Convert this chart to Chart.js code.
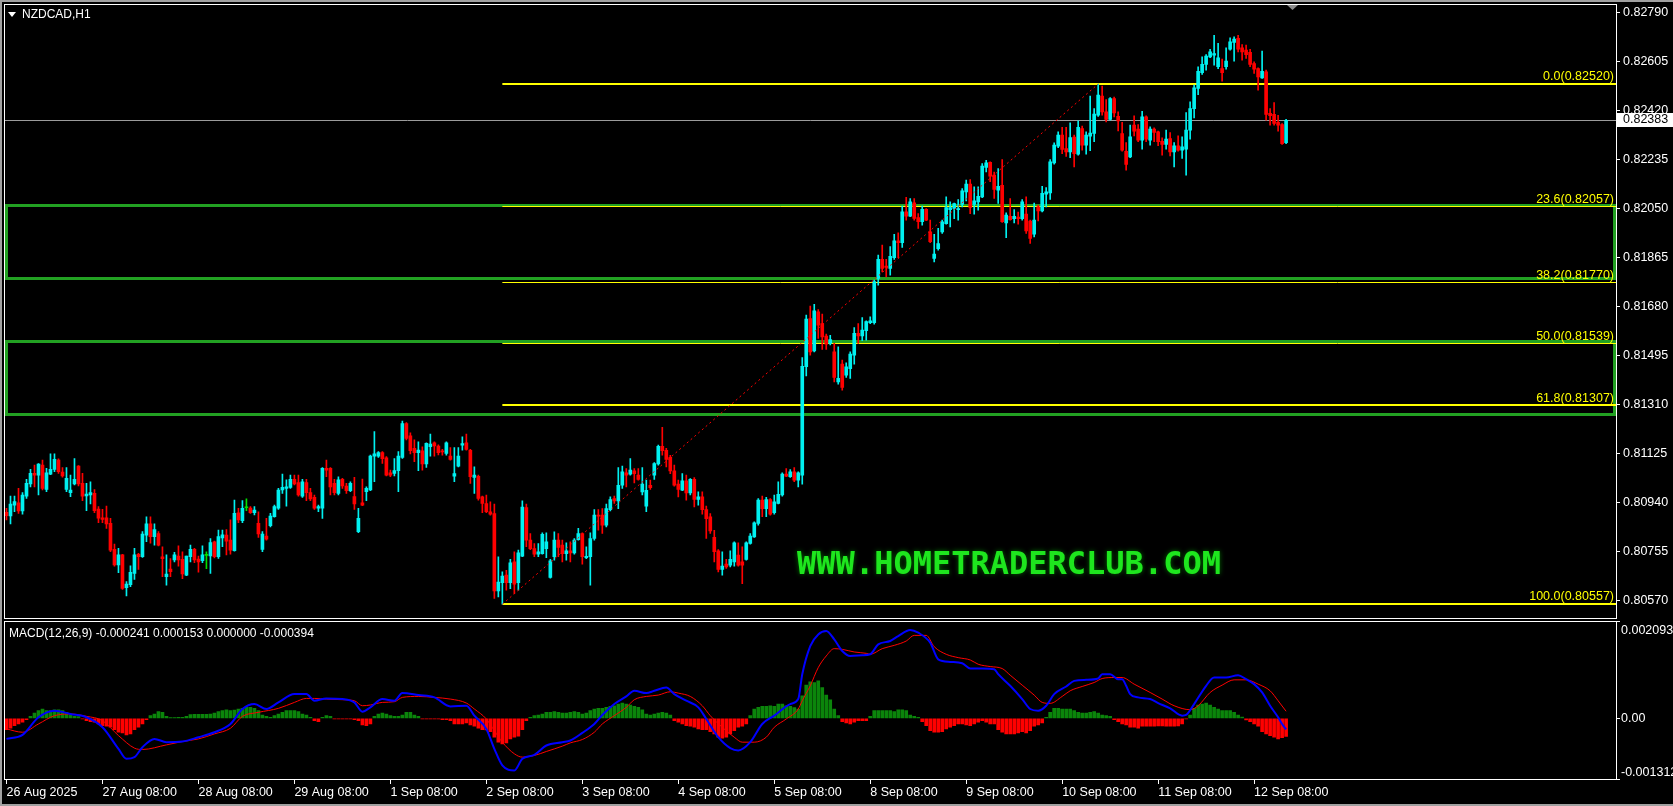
<!DOCTYPE html>
<html>
<head>
<meta charset="utf-8">
<title>NZDCAD,H1</title>
<script src="https://cdn.jsdelivr.net/npm/chart.js@4.4.1/dist/chart.umd.min.js"></script>
<style>
html, body { margin: 0; padding: 0; background: #000; overflow: hidden; }
#wrap { position: relative; width: 1673px; height: 806px; background: #000; }
#main { position: absolute; left: 0; top: 0; }
#macd { position: absolute; left: 0; top: 620px; }
#edge { position: absolute; left: 0; top: 0; width: 1673px; height: 806px; box-sizing: border-box;
        border-top: 2px solid #a0a0a0; border-left: 2px solid #a0a0a0; border-bottom: 2px solid #a0a0a0; pointer-events: none; }
</style>
</head>
<body>
<div id="wrap">
  <canvas id="main" width="1673" height="620"></canvas>
  <canvas id="macd" width="1673" height="186"></canvas>
  <div id="edge"></div>
</div>
<script>
// NZDCAD H1, 26 Aug - 12 Sep 2025, one entry per hourly bar
const opens = [
0.80904,0.80890,0.80931,0.80940,0.80909,0.80965,0.81011,0.81051,0.81044,0.81082,
0.80990,0.81048,0.81066,0.81101,0.81056,0.80990,0.80978,0.81011,0.81078,0.81013,
0.80966,0.80969,0.80975,0.80916,0.80883,0.80883,0.80862,0.80764,0.80705,0.80743,
0.80619,0.80631,0.80673,0.80745,0.80736,0.80818,0.80860,0.80812,0.80824,0.80736,
0.80661,0.80690,0.80724,0.80739,0.80726,0.80667,0.80736,0.80764,0.80727,0.80721,
0.80741,0.80739,0.80792,0.80736,0.80807,0.80818,0.80799,0.80759,0.80902,0.80872,
0.80921,0.80920,0.80902,0.80862,0.80764,0.80814,0.80853,0.80887,0.80919,0.80988,
0.80994,0.80998,0.81028,0.81016,0.80965,0.81016,0.80978,0.80960,0.80919,0.80919,
0.81070,0.81070,0.81013,0.80975,0.81028,0.81003,0.80985,0.80963,0.80831,0.80940,
0.80982,0.80988,0.81116,0.81116,0.81129,0.81109,0.81053,0.81051,0.81061,0.81111,
0.81239,0.81192,0.81145,0.81129,0.81136,0.81086,0.81151,0.81166,0.81154,0.81136,
0.81126,0.81116,0.81040,0.81078,0.81157,0.81166,0.81138,0.81035,0.81040,0.80962,
0.80937,0.80906,0.80899,0.80607,0.80638,0.80667,0.80638,0.80717,0.80638,0.80738,
0.80922,0.80799,0.80767,0.80746,0.80748,0.80767,0.80658,0.80736,0.80799,0.80780,
0.80748,0.80758,0.80751,0.80801,0.80824,0.80733,0.80736,0.80805,0.80893,0.80893,
0.80855,0.80914,0.80956,0.80947,0.81006,0.81053,0.81048,0.81060,0.81044,0.80981,
0.80927,0.81006,0.81044,0.81086,0.81153,0.81138,0.81111,0.81060,0.81010,0.80987,
0.81023,0.80977,0.81028,0.80952,0.80962,0.80914,0.80887,0.80809,0.80758,0.80688,
0.80708,0.80704,0.80717,0.80742,0.80717,0.80726,0.80786,0.80811,0.80862,0.80950,
0.80918,0.80952,0.80902,0.80937,0.80969,0.81048,0.81038,0.81057,0.81025,0.81044,
0.81453,0.81635,0.81513,0.81660,0.81616,0.81569,0.81541,0.81509,0.81396,0.81463,
0.81421,0.81446,0.81497,0.81579,0.81569,0.81589,0.81619,0.81619,0.81786,0.81858,
0.81833,0.81824,0.81865,0.81928,0.81921,0.82038,0.82021,0.82072,0.82016,0.82000,
0.82047,0.81962,0.81862,0.81899,0.81962,0.81993,0.82046,0.82050,0.82046,0.82066,
0.82113,0.82142,0.82066,0.82075,0.82094,0.82205,0.82224,0.82176,0.82119,0.82138,
0.81996,0.82021,0.82012,0.82018,0.82012,0.82029,0.82003,0.81953,0.82056,0.82041,
0.82104,0.82109,0.82222,0.82285,0.82327,0.82276,0.82264,0.82320,0.82255,0.82352,
0.82289,0.82323,0.82333,0.82402,0.82474,0.82415,0.82386,0.82465,0.82398,0.82333,
0.82266,0.82245,0.82365,0.82350,0.82308,0.82396,0.82308,0.82350,0.82339,0.82304,
0.82292,0.82314,0.82264,0.82287,0.82270,0.82274,0.82346,0.82427,0.82503,0.82563,
0.82594,0.82622,0.82629,0.82585,0.82578,0.82585,0.82651,0.82677,0.82692,0.82656,
0.82648,0.82639,0.82597,0.82578,0.82543,0.82566,0.82409,0.82405,0.82375,0.82367,
0.82299];
const highs = [
0.80919,0.80965,0.80965,0.80994,0.80978,0.81028,0.81066,0.81082,0.81088,0.81101,
0.81070,0.81124,0.81124,0.81106,0.81073,0.81073,0.81044,0.81107,0.81080,0.81051,
0.81013,0.81019,0.80990,0.80925,0.80915,0.80927,0.80881,0.80784,0.80768,0.80745,
0.80642,0.80702,0.80768,0.80749,0.80831,0.80887,0.80887,0.80860,0.80831,0.80774,
0.80743,0.80729,0.80753,0.80777,0.80755,0.80739,0.80780,0.80768,0.80739,0.80777,
0.80755,0.80805,0.80795,0.80837,0.80837,0.80839,0.80875,0.80950,0.80919,0.80948,
0.80955,0.80925,0.80925,0.80906,0.80831,0.80881,0.80900,0.80931,0.80994,0.81048,
0.81026,0.81044,0.81044,0.81044,0.81028,0.81028,0.80994,0.80969,0.80931,0.81073,
0.81101,0.81073,0.81028,0.81038,0.81032,0.81013,0.81019,0.81036,0.80919,0.81029,
0.81000,0.81120,0.81208,0.81133,0.81133,0.81114,0.81063,0.81107,0.81133,0.81248,
0.81242,0.81204,0.81177,0.81170,0.81151,0.81166,0.81199,0.81170,0.81158,0.81141,
0.81170,0.81148,0.81148,0.81148,0.81189,0.81199,0.81141,0.81075,0.81044,0.80965,
0.80969,0.80943,0.80935,0.80736,0.80679,0.80685,0.80726,0.80755,0.80761,0.80947,
0.80935,0.80824,0.80786,0.80786,0.80826,0.80826,0.80726,0.80830,0.80824,0.80799,
0.80789,0.80792,0.80805,0.80843,0.80826,0.80774,0.80826,0.80914,0.80914,0.80918,
0.80935,0.80962,0.80965,0.81073,0.81078,0.81069,0.81107,0.81069,0.81069,0.81073,
0.81025,0.81025,0.81091,0.81157,0.81224,0.81145,0.81119,0.81082,0.81025,0.81050,
0.81044,0.81031,0.81035,0.80981,0.80981,0.80927,0.80899,0.80836,0.80763,0.80755,
0.80726,0.80758,0.80792,0.80789,0.80774,0.80792,0.80824,0.80868,0.80956,0.80965,
0.80960,0.80956,0.80969,0.81019,0.81053,0.81069,0.81065,0.81073,0.81057,0.81488,
0.81648,0.81682,0.81689,0.81669,0.81652,0.81576,0.81572,0.81541,0.81528,0.81478,
0.81468,0.81509,0.81601,0.81616,0.81639,0.81626,0.81641,0.81780,0.81874,0.81912,
0.81858,0.81906,0.81953,0.81958,0.82059,0.82092,0.82088,0.82088,0.82031,0.82059,
0.82050,0.82006,0.81953,0.81975,0.82006,0.82094,0.82075,0.82071,0.82084,0.82125,
0.82157,0.82159,0.82132,0.82132,0.82220,0.82232,0.82226,0.82188,0.82201,0.82235,
0.82034,0.82088,0.82046,0.82037,0.82084,0.82094,0.82006,0.82071,0.82063,0.82134,
0.82129,0.82235,0.82298,0.82339,0.82356,0.82356,0.82373,0.82327,0.82381,0.82361,
0.82339,0.82474,0.82427,0.82520,0.82512,0.82461,0.82469,0.82471,0.82415,0.82375,
0.82299,0.82365,0.82400,0.82367,0.82417,0.82400,0.82358,0.82355,0.82342,0.82317,
0.82346,0.82337,0.82299,0.82324,0.82321,0.82412,0.82453,0.82516,0.82585,0.82622,
0.82631,0.82651,0.82704,0.82673,0.82614,0.82656,0.82694,0.82698,0.82704,0.82669,
0.82667,0.82651,0.82604,0.82581,0.82644,0.82572,0.82427,0.82450,0.82402,0.82371,
0.82387];
const lows = [
0.80875,0.80860,0.80906,0.80900,0.80897,0.80956,0.81000,0.81000,0.80969,0.80988,
0.80982,0.81046,0.81057,0.81051,0.81036,0.80982,0.80963,0.81007,0.81003,0.80948,
0.80910,0.80935,0.80902,0.80865,0.80865,0.80843,0.80755,0.80701,0.80676,0.80613,
0.80588,0.80623,0.80651,0.80688,0.80734,0.80793,0.80787,0.80780,0.80777,0.80661,
0.80629,0.80661,0.80717,0.80701,0.80653,0.80665,0.80717,0.80714,0.80678,0.80714,
0.80691,0.80673,0.80732,0.80730,0.80774,0.80743,0.80746,0.80757,0.80865,0.80865,
0.80910,0.80900,0.80894,0.80809,0.80755,0.80799,0.80849,0.80885,0.80915,0.80975,
0.80927,0.80994,0.81007,0.80965,0.80960,0.80948,0.80948,0.80915,0.80906,0.80881,
0.81038,0.80969,0.80969,0.80969,0.80994,0.80975,0.80982,0.80915,0.80827,0.80929,
0.80948,0.80985,0.81019,0.81111,0.81088,0.81041,0.81038,0.81041,0.80982,0.81107,
0.81177,0.81124,0.81095,0.81061,0.81063,0.81073,0.81116,0.81116,0.81120,0.81119,
0.81119,0.81101,0.81019,0.81075,0.81138,0.81138,0.81013,0.80975,0.80950,0.80902,
0.80902,0.80893,0.80579,0.80585,0.80557,0.80610,0.80616,0.80597,0.80610,0.80736,
0.80774,0.80763,0.80736,0.80736,0.80746,0.80733,0.80655,0.80723,0.80736,0.80717,
0.80723,0.80717,0.80746,0.80799,0.80708,0.80729,0.80629,0.80799,0.80836,0.80824,
0.80849,0.80909,0.80937,0.80918,0.80994,0.81000,0.81044,0.81015,0.81025,0.80969,
0.80906,0.80990,0.81028,0.81082,0.81119,0.81075,0.81050,0.81002,0.80962,0.80985,
0.80950,0.80969,0.80924,0.80931,0.80897,0.80805,0.80824,0.80717,0.80679,0.80667,
0.80692,0.80698,0.80701,0.80701,0.80635,0.80723,0.80784,0.80809,0.80855,0.80887,
0.80887,0.80893,0.80897,0.80935,0.80965,0.81038,0.81035,0.81019,0.81000,0.81010,
0.81418,0.81497,0.81509,0.81560,0.81518,0.81518,0.81535,0.81396,0.81387,0.81365,
0.81413,0.81409,0.81463,0.81541,0.81551,0.81553,0.81616,0.81614,0.81761,0.81811,
0.81792,0.81799,0.81858,0.81865,0.81903,0.82006,0.82019,0.82006,0.81975,0.81987,
0.82004,0.81921,0.81849,0.81893,0.81956,0.81991,0.81981,0.82012,0.82006,0.82056,
0.82079,0.82031,0.82029,0.82044,0.82091,0.82188,0.82151,0.82088,0.82069,0.81998,
0.81940,0.82006,0.81996,0.81991,0.82006,0.81956,0.81918,0.81943,0.82003,0.82037,
0.82056,0.82084,0.82217,0.82280,0.82257,0.82247,0.82242,0.82207,0.82251,0.82270,
0.82255,0.82268,0.82302,0.82398,0.82402,0.82377,0.82383,0.82396,0.82343,0.82266,
0.82195,0.82242,0.82324,0.82302,0.82274,0.82302,0.82289,0.82302,0.82287,0.82251,
0.82274,0.82249,0.82207,0.82266,0.82239,0.82176,0.82312,0.82392,0.82480,0.82556,
0.82572,0.82619,0.82591,0.82578,0.82531,0.82576,0.82648,0.82606,0.82641,0.82610,
0.82616,0.82585,0.82560,0.82497,0.82541,0.82383,0.82365,0.82365,0.82342,0.82292,
0.82295];
const closes = [
0.80891,0.80935,0.80944,0.80909,0.80969,0.81013,0.81051,0.81044,0.81086,0.80994,
0.81053,0.81066,0.81104,0.81057,0.81041,0.81032,0.80988,0.81028,0.81011,0.80965,
0.80973,0.80978,0.80910,0.80882,0.80877,0.80860,0.80761,0.80705,0.80743,0.80617,
0.80633,0.80677,0.80743,0.80736,0.80822,0.80860,0.80812,0.80839,0.80780,0.80729,
0.80671,0.80680,0.80743,0.80724,0.80671,0.80739,0.80764,0.80724,0.80717,0.80743,
0.80741,0.80790,0.80736,0.80812,0.80819,0.80795,0.80761,0.80900,0.80875,0.80919,
0.80921,0.80902,0.80912,0.80822,0.80822,0.80802,0.80890,0.80925,0.80988,0.80998,
0.81000,0.81028,0.81011,0.80969,0.81019,0.80978,0.80954,0.80919,0.80925,0.81070,
0.81063,0.81000,0.80978,0.81026,0.81003,0.80985,0.81013,0.80935,0.80881,0.80931,
0.80994,0.81116,0.81124,0.81129,0.81106,0.81044,0.81044,0.81061,0.81116,0.81239,
0.81183,0.81136,0.81129,0.81139,0.81086,0.81164,0.81161,0.81154,0.81129,0.81132,
0.81166,0.81103,0.81050,0.81116,0.81163,0.81141,0.81038,0.81044,0.80956,0.80937,
0.80906,0.80897,0.80607,0.80641,0.80663,0.80638,0.80713,0.80633,0.80751,0.80924,
0.80799,0.80767,0.80746,0.80755,0.80821,0.80792,0.80721,0.80799,0.80771,0.80748,
0.80758,0.80751,0.80799,0.80824,0.80736,0.80738,0.80805,0.80893,0.80889,0.80855,
0.80918,0.80952,0.80947,0.81006,0.81057,0.81044,0.81063,0.81050,0.81028,0.81010,
0.80987,0.80997,0.81088,0.81153,0.81136,0.81103,0.81060,0.81006,0.80990,0.81023,
0.80977,0.81028,0.80952,0.80962,0.80914,0.80880,0.80834,0.80755,0.80688,0.80701,
0.80698,0.80726,0.80789,0.80704,0.80704,0.80789,0.80814,0.80864,0.80950,0.80918,
0.80952,0.80897,0.80943,0.80972,0.81048,0.81040,0.81057,0.81025,0.81053,0.81455,
0.81633,0.81509,0.81664,0.81610,0.81566,0.81538,0.81556,0.81413,0.81409,0.81375,
0.81453,0.81501,0.81579,0.81569,0.81591,0.81623,0.81626,0.81774,0.81858,0.81824,
0.81828,0.81870,0.81928,0.81921,0.82038,0.82021,0.82075,0.82013,0.82000,0.82047,
0.82006,0.81925,0.81878,0.81918,0.82000,0.82054,0.82054,0.82069,0.82050,0.82117,
0.82142,0.82054,0.82079,0.82096,0.82210,0.82222,0.82172,0.82122,0.82134,0.82000,
0.82025,0.82008,0.82021,0.82012,0.82075,0.81966,0.81937,0.82006,0.82041,0.82107,
0.82113,0.82226,0.82289,0.82327,0.82273,0.82264,0.82318,0.82257,0.82356,0.82289,
0.82327,0.82335,0.82406,0.82478,0.82415,0.82386,0.82465,0.82411,0.82381,0.82270,
0.82216,0.82321,0.82342,0.82308,0.82396,0.82312,0.82350,0.82337,0.82302,0.82292,
0.82312,0.82264,0.82287,0.82270,0.82283,0.82346,0.82427,0.82505,0.82568,0.82594,
0.82625,0.82641,0.82635,0.82619,0.82563,0.82606,0.82679,0.82689,0.82651,0.82641,
0.82631,0.82594,0.82576,0.82547,0.82568,0.82405,0.82400,0.82371,0.82365,0.82295,
0.82383];

// MACD(12,26,9) histogram, one value per bar
const macdHist = [
-244e-6,-215e-6,-158e-6,-122e-6,-86e-6,-29e-6,43e-6,115e-6,165e-6,201e-6,
165e-6,165e-6,186e-6,186e-6,165e-6,129e-6,72e-6,43e-6,36e-6,-14e-6,
-50e-6,-72e-6,-86e-6,-122e-6,-158e-6,-172e-6,-194e-6,-244e-6,-301e-6,-315e-6,
-358e-6,-337e-6,-244e-6,-194e-6,-122e-6,-29e-6,57e-6,93e-6,143e-6,129e-6,
43e-6,14e-6,14e-6,22e-6,22e-6,43e-6,79e-6,86e-6,86e-6,86e-6,
86e-6,93e-6,115e-6,143e-6,165e-6,186e-6,165e-6,179e-6,201e-6,215e-6,
237e-6,237e-6,215e-6,165e-6,72e-6,43e-6,22e-6,57e-6,93e-6,129e-6,
165e-6,165e-6,165e-6,143e-6,93e-6,72e-6,22e-6,-50e-6,-72e-6,22e-6,
57e-6,43e-6,-14e-6,-14e-6,-14e-6,-14e-6,-14e-6,-29e-6,-50e-6,-143e-6,
-158e-6,-122e-6,43e-6,93e-6,115e-6,93e-6,57e-6,43e-6,43e-6,72e-6,
129e-6,129e-6,72e-6,43e-6,-14e-6,-14e-6,-14e-6,-14e-6,-14e-6,-29e-6,
-29e-6,-50e-6,-122e-6,-122e-6,-122e-6,-100e-6,-143e-6,-172e-6,-215e-6,-244e-6,
-250e-6,-287e-6,-409e-6,-516e-6,-552e-6,-531e-6,-445e-6,-409e-6,-387e-6,-244e-6,
-50e-6,22e-6,57e-6,72e-6,93e-6,129e-6,129e-6,143e-6,129e-6,115e-6,
115e-6,129e-6,143e-6,129e-6,93e-6,115e-6,165e-6,201e-6,215e-6,215e-6,
237e-6,258e-6,272e-6,308e-6,330e-6,308e-6,287e-6,258e-6,237e-6,186e-6,
93e-6,72e-6,93e-6,115e-6,129e-6,115e-6,72e-6,-50e-6,-86e-6,-122e-6,
-158e-6,-172e-6,-194e-6,-229e-6,-244e-6,-244e-6,-287e-6,-337e-6,-409e-6,-430e-6,
-409e-6,-337e-6,-265e-6,-194e-6,-172e-6,-122e-6,57e-6,201e-6,237e-6,258e-6,
258e-6,272e-6,258e-6,308e-6,308e-6,272e-6,258e-6,230e-6,201e-6,488e-6,
717e-6,789e-6,774e-6,810e-6,667e-6,502e-6,401e-6,201e-6,57e-6,-72e-6,
-100e-6,-122e-6,-86e-6,-50e-6,-50e-6,-50e-6,43e-6,165e-6,165e-6,165e-6,
165e-6,165e-6,143e-6,186e-6,186e-6,165e-6,72e-6,43e-6,22e-6,-72e-6,
-158e-6,-265e-6,-301e-6,-301e-6,-287e-6,-229e-6,-194e-6,-158e-6,-122e-6,-122e-6,
-143e-6,-158e-6,-122e-6,-86e-6,-50e-6,-86e-6,-122e-6,-122e-6,-244e-6,-301e-6,
-337e-6,-337e-6,-337e-6,-315e-6,-287e-6,-315e-6,-265e-6,-172e-6,-143e-6,-100e-6,
22e-6,129e-6,215e-6,215e-6,201e-6,201e-6,201e-6,165e-6,129e-6,115e-6,
115e-6,129e-6,143e-6,115e-6,72e-6,57e-6,43e-6,-29e-6,-72e-6,-122e-6,
-143e-6,-194e-6,-194e-6,-215e-6,-172e-6,-172e-6,-172e-6,-172e-6,-165e-6,-165e-6,
-172e-6,-172e-6,-172e-6,-165e-6,-122e-6,-14e-6,72e-6,215e-6,287e-6,308e-6,
330e-6,287e-6,237e-6,201e-6,165e-6,165e-6,165e-6,129e-6,72e-6,29e-6,
-36e-6,-72e-6,-122e-6,-172e-6,-287e-6,-337e-6,-373e-6,-409e-6,-445e-6,-420e-6,
-394e-6];

// MACD main and signal lines, read at [bar, value]
const macdMainPts = [
[0,-445e-6],[4,-358e-6],[8,22e-6],[12,165e-6],[16,93e-6],[20,22e-6],[24,-194e-6],[28,-660e-6],[30,-875e-6],[32,-839e-6],
[34,-624e-6],[37,-445e-6],[40,-516e-6],[44,-502e-6],[48,-409e-6],[52,-301e-6],[56,-122e-6],[59,201e-6],[62,308e-6],[65,201e-6],
[68,344e-6],[72,523e-6],[75,523e-6],[77,380e-6],[80,430e-6],[84,416e-6],[87,344e-6],[89,143e-6],[91,237e-6],[94,416e-6],
[97,380e-6],[99,545e-6],[103,502e-6],[107,452e-6],[111,258e-6],[115,272e-6],[117,57e-6],[120,-229e-6],[122,-660e-6],[124,-1018e-6],
[127,-1126e-6],[129,-875e-6],[132,-789e-6],[135,-588e-6],[139,-516e-6],[141,-480e-6],[144,-315e-6],[147,-122e-6],[149,72e-6],[152,308e-6],
[155,473e-6],[157,595e-6],[160,545e-6],[162,595e-6],[165,667e-6],[167,523e-6],[170,380e-6],[173,237e-6],[175,-14e-6],[178,-409e-6],
[181,-645e-6],[183,-695e-6],[186,-516e-6],[189,-122e-6],[192,57e-6],[196,308e-6],[198,416e-6],[199,954e-6],[201,1563e-6],[203,1814e-6],
[205,1886e-6],[207,1706e-6],[209,1456e-6],[211,1348e-6],[214,1362e-6],[216,1384e-6],[218,1599e-6],[221,1671e-6],[223,1778e-6],[226,1907e-6],
[228,1850e-6],[231,1635e-6],[233,1276e-6],[236,1219e-6],[239,1190e-6],[241,1076e-6],[244,1076e-6],[247,1061e-6],[248,954e-6],[251,703e-6],
[254,416e-6],[256,201e-6],[258,165e-6],[260,272e-6],[262,523e-6],[265,688e-6],[267,810e-6],[270,832e-6],[273,860e-6],[274,954e-6],
[276,954e-6],[278,846e-6],[279,846e-6],[280,703e-6],[281,523e-6],[283,452e-6],[286,416e-6],[288,330e-6],[291,215e-6],[294,57e-6],
[295,72e-6],[297,308e-6],[300,703e-6],[302,882e-6],[305,882e-6],[308,932e-6],[310,846e-6],[312,739e-6],[314,559e-6],[316,272e-6],
[318,22e-6],[319,-122e-6],[320,-241e-6]];
const macdSignalPts = [
[0,-229e-6],[4,-301e-6],[8,-122e-6],[12,57e-6],[16,93e-6],[20,43e-6],[24,-50e-6],[28,-373e-6],[32,-645e-6],[34,-674e-6],
[40,-574e-6],[44,-502e-6],[48,-445e-6],[52,-337e-6],[56,-215e-6],[59,43e-6],[63,129e-6],[68,215e-6],[72,344e-6],[75,430e-6],
[77,430e-6],[80,416e-6],[84,402e-6],[87,380e-6],[89,272e-6],[91,287e-6],[94,344e-6],[97,359e-6],[99,452e-6],[103,473e-6],
[107,452e-6],[111,416e-6],[115,330e-6],[117,201e-6],[120,-14e-6],[122,-265e-6],[124,-516e-6],[127,-767e-6],[129,-839e-6],[132,-803e-6],
[135,-717e-6],[139,-602e-6],[141,-531e-6],[144,-459e-6],[147,-301e-6],[149,-122e-6],[152,57e-6],[155,237e-6],[157,402e-6],[160,473e-6],
[163,502e-6],[166,574e-6],[168,545e-6],[171,473e-6],[174,272e-6],[176,57e-6],[179,-194e-6],[182,-409e-6],[184,-516e-6],[187,-516e-6],
[190,-409e-6],[192,-194e-6],[195,-14e-6],[198,201e-6],[199,380e-6],[201,703e-6],[203,1097e-6],[205,1348e-6],[207,1506e-6],[209,1491e-6],
[212,1434e-6],[215,1405e-6],[216,1384e-6],[219,1506e-6],[222,1577e-6],[225,1671e-6],[227,1793e-6],[230,1793e-6],[232,1549e-6],[235,1384e-6],
[238,1312e-6],[241,1262e-6],[243,1169e-6],[246,1119e-6],[249,1076e-6],[251,932e-6],[254,717e-6],[257,502e-6],[259,344e-6],[261,323e-6],
[264,473e-6],[266,595e-6],[269,688e-6],[272,774e-6],[274,860e-6],[277,882e-6],[279,882e-6],[282,739e-6],[286,559e-6],[289,416e-6],
[292,272e-6],[296,186e-6],[298,272e-6],[301,559e-6],[304,717e-6],[307,832e-6],[310,832e-6],[313,739e-6],[316,595e-6],[318,380e-6],
[320,153e-6]];

// axis labels and levels
const dayLabels = ['26 Aug 2025', '27 Aug 08:00', '28 Aug 08:00', '29 Aug 08:00', '1 Sep 08:00', '2 Sep 08:00', '3 Sep 08:00',
                   '4 Sep 08:00', '5 Sep 08:00', '8 Sep 08:00', '9 Sep 08:00', '10 Sep 08:00', '11 Sep 08:00', '12 Sep 08:00'];
const priceTicks = [0.82790, 0.82605, 0.82420, 0.82235, 0.82050, 0.81865, 0.81680, 0.81495, 0.81310, 0.81125, 0.80940, 0.80755, 0.80570];
const fibLevels = [0.0, 23.6, 38.2, 50.0, 61.8, 100.0];
const fibPrices = [0.82520, 0.82057, 0.81770, 0.81539, 0.81307, 0.80557];
const fibFromBar = 124, fibToBar = 273;
const zones = [[0.82062, 0.81785], [0.81547, 0.81273]];
const bidPrice = 0.82383;
const macdTicks = [-0.001312, 0.00, 0.002093];
const macdLegend = 'MACD(12,26,9) -0.000241 0.000153 0.000000 -0.000394';

if (opens.length !== 321 || highs.length !== 321 || lows.length !== 321 || closes.length !== 321 || macdHist.length !== 321) {
  console.error('length mismatch', opens.length, highs.length, lows.length, closes.length, macdHist.length);
}

const N_SLOTS = 403;   // bars plus the empty shift area on the right
const PER_LABEL = 24;
const FONT = 'Liberation Sans';
Chart.defaults.font.family = FONT;
Chart.defaults.font.size = 12;
Chart.defaults.color = '#ffffff';

const barLabels = [];
for (let i = 0; i < N_SLOTS; i++) {
  barLabels.push(i % PER_LABEL === 0 && dayLabels[i / PER_LABEL] ? dayLabels[i / PER_LABEL] : '');
}

const UP = '#00f0f0', DOWN = '#ff0000', FLAT = '#00e000';
const candleColor = opens.map((o, i) => closes[i] > o ? UP : (closes[i] < o ? DOWN : FLAT));
const wicks = lows.map((l, i) => [l, highs[i]]);
const bodies = opens.map((o, i) => [o, closes[i]]);

const trend = new Array(N_SLOTS).fill(null);
trend[fibFromBar] = fibPrices[5];
trend[fibToBar] = fibPrices[0];

const crisp = (v, w) => (w % 2 ? Math.round(v - 0.5) + 0.5 : Math.round(v));

// keep the plot areas fixed: no extra room for edge labels
function noEdgePad(axis) {
  axis.paddingTop = 0;
  axis.paddingBottom = 0;
  axis.paddingLeft = 0;
  axis.paddingRight = 0;
}

const mainDecor = {
  id: 'mainDecor',
  beforeDatasetsDraw(chart) {
    const { ctx, chartArea: a, scales: { x, y } } = chart;
    ctx.save();
    // green zones
    ctx.strokeStyle = '#22a022';
    ctx.lineWidth = 3;
    zones.forEach(([hi, lo]) => {
      const t = crisp(y.getPixelForValue(hi), 3), b = crisp(y.getPixelForValue(lo), 3);
      ctx.strokeRect(a.left + 2, t, a.right - a.left - 3.5, b - t);
    });
    // fibonacci levels
    const fx = x.getPixelForValue(fibFromBar);
    ctx.strokeStyle = '#ffff00';
    fibPrices.forEach((p, k) => {
      const w = (k === 0 || k >= 4) ? 2 : 1;
      const py = crisp(y.getPixelForValue(p), w);
      ctx.lineWidth = w;
      ctx.beginPath();
      ctx.moveTo(fx, py);
      ctx.lineTo(a.right, py);
      ctx.stroke();
    });
    // bid line
    const by = crisp(y.getPixelForValue(bidPrice), 1);
    ctx.strokeStyle = '#9c9c9c';
    ctx.lineWidth = 1;
    ctx.beginPath();
    ctx.moveTo(a.left, by);
    ctx.lineTo(a.right, by);
    ctx.stroke();
    ctx.restore();
  },
  afterDatasetsDraw(chart) {
    const { ctx, chartArea: a, scales: { y } } = chart;
    ctx.save();
    // fib labels
    ctx.font = '12.5px "' + FONT + '"';
    ctx.fillStyle = '#ffff00';
    ctx.textAlign = 'right';
    ctx.textBaseline = 'bottom';
    fibPrices.forEach((p, k) => {
      const py = y.getPixelForValue(p);
      ctx.fillText(fibLevels[k].toFixed(1) + '(' + p.toFixed(5) + ')', a.right - 2, py - 1);
    });
    // watermark
    ctx.font = 'bold 32px "DejaVu Sans Mono"';
    ctx.textAlign = 'center';
    ctx.textBaseline = 'middle';
    ctx.shadowColor = 'rgba(0,120,0,0.9)';
    ctx.shadowBlur = 5;
    ctx.fillStyle = '#1ee61e';
    ctx.fillText('WWW.HOMETRADERCLUB.COM', 1009, 566);
    ctx.shadowBlur = 0;
    // symbol header
    ctx.fillStyle = '#ffffff';
    ctx.beginPath();
    ctx.moveTo(8, 12); ctx.lineTo(16, 12); ctx.lineTo(12, 17); ctx.closePath();
    ctx.fill();
    ctx.font = '12px "' + FONT + '"';
    ctx.textAlign = 'left';
    ctx.fillText('NZDCAD,H1', 22, 15);
    // shift marker
    ctx.fillStyle = '#8c8c8c';
    ctx.beginPath();
    ctx.moveTo(1287, 5); ctx.lineTo(1298, 5); ctx.lineTo(1292.5, 10); ctx.closePath();
    ctx.fill();
    // bid price tag
    const by = Math.round(y.getPixelForValue(bidPrice));
    ctx.fillStyle = '#ffffff';
    ctx.fillRect(a.right + 1, by - 7, chart.width - a.right - 1, 14);
    ctx.fillStyle = '#000000';
    ctx.font = '12.5px "' + FONT + '"';
    ctx.fillText(bidPrice.toFixed(5), a.right + 7, by);
    // frame
    ctx.strokeStyle = '#ffffff';
    ctx.lineWidth = 1;
    ctx.strokeRect(a.left, a.top - 0.5, a.right + 0.5 - a.left, a.bottom - a.top + 1);
    ctx.restore();
  }
};

new Chart(document.getElementById('main'), {
  type: 'bar',
  data: {
    labels: barLabels,
    datasets: [
      { type: 'line', data: trend, borderColor: '#ff0000', borderWidth: 1, borderDash: [2, 3], pointRadius: 0, spanGaps: true, order: 0 },
      { data: bodies, backgroundColor: candleColor, barThickness: 3, minBarLength: 1, grouped: false, order: 1 },
      { data: wicks, backgroundColor: candleColor, barThickness: 1, grouped: false, order: 2 }
    ]
  },
  options: {
    responsive: false,
    animation: false,
    devicePixelRatio: 1,
    layout: { padding: { left: 4.5, top: 5, right: 0, bottom: 2 } },
    plugins: { legend: { display: false }, tooltip: { enabled: false } },
    scales: {
      x: { display: false },
      y: {
        position: 'right',
        min: 0.80505,
        max: 0.82818,
        afterBuildTicks: (axis) => { axis.ticks = priceTicks.map(v => ({ value: v })); },
        afterFit: (axis) => { axis.width = 57; noEdgePad(axis); },
        ticks: { color: '#ffffff', padding: 3, font: { size: 12.5 }, callback: (v) => Number(v).toFixed(5) },
        grid: { drawOnChartArea: false, color: '#ffffff', tickLength: 4 },
        border: { display: false }
      }
    }
  },
  plugins: [mainDecor]
});

// MACD pane
const macdMain = new Array(N_SLOTS).fill(null);
macdMainPts.forEach(([i, v]) => { macdMain[i] = v; });
const macdSignal = new Array(N_SLOTS).fill(null);
macdSignalPts.forEach(([i, v]) => { macdSignal[i] = v; });

const macdDecor = {
  id: 'macdDecor',
  afterDatasetsDraw(chart) {
    const { ctx, chartArea: a, scales: { y } } = chart;
    ctx.save();
    ctx.fillStyle = '#ffffff';
    ctx.font = '12px "' + FONT + '"';
    ctx.textAlign = 'left';
    ctx.textBaseline = 'middle';
    ctx.fillText(macdLegend, 9, a.top + 12);
    ctx.font = '12.5px "' + FONT + '"';
    ctx.fillText('0.002093', a.right + 5, a.top + 9.5);
    ctx.fillText('0.00', a.right + 5, y.getPixelForValue(0));
    ctx.fillText('-0.001312', a.right + 5, a.bottom - 6);
    ctx.strokeStyle = '#ffffff';
    ctx.lineWidth = 1;
    ctx.strokeRect(a.left, a.top, a.right + 0.5 - a.left, a.bottom + 0.5 - a.top);
    ctx.restore();
  }
};

new Chart(document.getElementById('macd'), {
  type: 'bar',
  data: {
    labels: barLabels,
    datasets: [
      { type: 'line', data: macdMain, borderColor: '#0000ff', borderWidth: 2, pointRadius: 0, spanGaps: true, cubicInterpolationMode: 'monotone', order: 0 },
      { type: 'line', data: macdSignal, borderColor: '#ff0000', borderWidth: 1, pointRadius: 0, spanGaps: true, cubicInterpolationMode: 'monotone', order: 1 },
      { data: macdHist, backgroundColor: macdHist.map(v => v >= 0 ? '#0b850b' : '#ff0000'), barThickness: 3, order: 2 }
    ]
  },
  options: {
    responsive: false,
    animation: false,
    devicePixelRatio: 1,
    layout: { padding: { left: 4.5, top: 1.5, right: 0, bottom: 0 } },
    plugins: { legend: { display: false }, tooltip: { enabled: false } },
    scales: {
      x: {
        afterBuildTicks: (axis) => { axis.ticks = dayLabels.map((_, k) => ({ value: k * PER_LABEL })); },
        afterFit: (axis) => { axis.height = 27; noEdgePad(axis); },
        ticks: { autoSkip: false, maxRotation: 0, minRotation: 0, align: 'start', color: '#ffffff', padding: 1, font: { size: 12.5 } },
        grid: { offset: false, drawOnChartArea: false, color: '#ffffff', tickLength: 5 },
        border: { display: false }
      },
      y: {
        position: 'right',
        min: macdTicks[0],
        max: macdTicks[2],
        afterBuildTicks: (axis) => { axis.ticks = macdTicks.map(v => ({ value: v })); },
        afterFit: (axis) => { axis.width = 57; noEdgePad(axis); },
        ticks: { display: false },
        grid: { drawOnChartArea: false, color: '#ffffff', tickLength: 4 },
        border: { display: false }
      }
    }
  },
  plugins: [macdDecor]
});
</script>
</body>
</html>
